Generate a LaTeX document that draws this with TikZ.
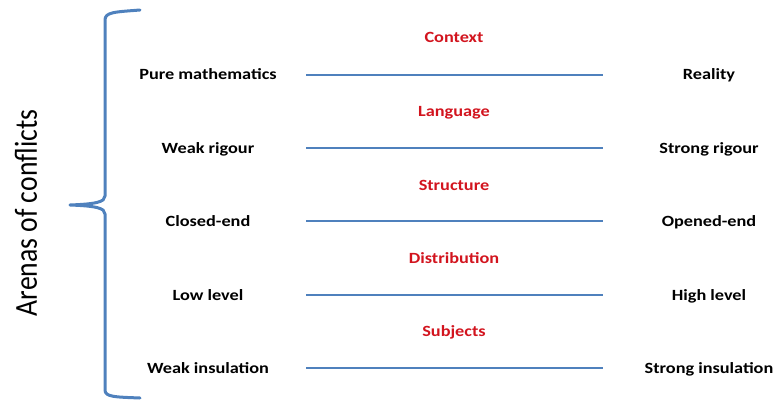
\documentclass[tikz,border=0pt]{standalone}
\usepackage{fontspec}
\setmainfont{Carlito}[FakeStretch=1.17]
\newfontfamily\sidefont{Carlito}[FakeStretch=0.865]
\definecolor{lineblue}{RGB}{79,129,189}
\definecolor{headred}{RGB}{210,20,30}
\usetikzlibrary{positioning}

\begin{document}
\begin{tikzpicture}[
  x=1pt, y=-1pt,
  pole/.style={font=\fontsize{15.6}{18}\selectfont\bfseries, inner sep=0pt,
               text height=10pt, text depth=0pt},
  arena/.style={pole, text=headred},
  axis/.style={lineblue, line width=2pt},
  brace/.style={lineblue, line width=3pt, line join=round, line cap=round}
]
\useasboundingbox (0,0) rectangle (774,401);

% title along the brace
\node[rotate=90, inner sep=0pt, font=\sidefont\fontsize{32}{36}\selectfont] (title) at (26,213) {Arenas of conflicts};

% brace
\coordinate (tip) at (70,205);
\draw[brace] (140,10) .. controls (115,12) and (105,12) .. (105,20) -- (105,196)
  .. controls (105,202) and (96,204) .. (tip)
  .. controls (96,206) and (105,208) .. (105,214) -- (105,390)
  .. controls (105,397) and (115,397) .. (140,398);

% arenas
\node[arena] (ctx) at (454,38) {Context};
\node[arena] (lang) at (454,112) {Language};
\node[arena] (struct) at (454,185) {Structure};
\node[arena] (dist) at (454,258) {Distribution};
\node[arena] (subj) at (454,331) {Subjects};

% poles
\node[pole] (pure) at (208,75) {Pure mathematics};
\node[pole] (real) at (709,75) {Reality};
\node[pole] (weakr) at (208,148.5) {Weak rigour};
\node[pole] (strongr) at (709,148.5) {Strong rigour};
\node[pole] (closed) at (208,221) {Closed-end};
\node[pole] (opened) at (709,221) {Opened-end};
\node[pole] (low) at (208,295) {Low level};
\node[pole] (high) at (709,295) {High level};
\node[pole] (weaki) at (208,368) {Weak insulation};
\node[pole] (strongi) at (709,368) {Strong insulation};

% scales
\coordinate (ctxA) at (306,75);   \coordinate (ctxB) at (603,75);
\coordinate (langA) at (306,148.5); \coordinate (langB) at (603,148.5);
\coordinate (structA) at (306,221); \coordinate (structB) at (603,221);
\coordinate (distA) at (306,295); \coordinate (distB) at (603,295);
\coordinate (subjA) at (306,368); \coordinate (subjB) at (603,368);

\draw[axis] (ctxA) -- (ctxB);
\draw[axis] (langA) -- (langB);
\draw[axis] (structA) -- (structB);
\draw[axis] (distA) -- (distB);
\draw[axis] (subjA) -- (subjB);
\end{tikzpicture}
\end{document}
